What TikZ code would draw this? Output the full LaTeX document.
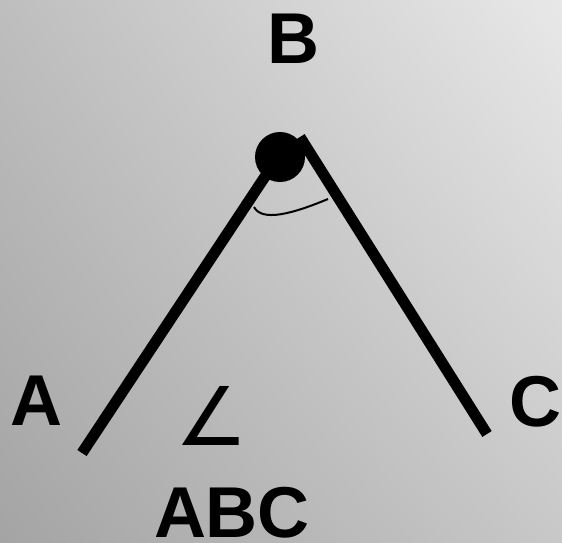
\documentclass[tikz,border=0pt]{standalone}
\usepackage{fontspec}
\usetikzlibrary{shadings}
\setmainfont{Liberation Sans}
\newfontfamily\symfont{DejaVu Sans}
\definecolor{bgul}{RGB}{190,190,190}
\definecolor{bgur}{RGB}{232,232,232}
\definecolor{bgll}{RGB}{164,164,164}
\definecolor{bglr}{RGB}{200,200,200}
\begin{document}
\begin{tikzpicture}[x=1pt,y=-1pt,
		lbl/.style={anchor=base,inner sep=0pt,font=\fontsize{72}{72}\selectfont\bfseries},
		arm/.style={line width=11pt}]
			\shade[upper left=bgul,upper right=bgur,lower left=bgll,lower right=bglr]
				(0,0) rectangle (562,542);
			\useasboundingbox (0,0) rectangle (562,542);
			\coordinate (aend) at (82,453);
			\coordinate (atop) at (272,166);
			\coordinate (ctop) at (300,137);
			\coordinate (cend) at (487,434);
			\coordinate (arcl) at (254,207);
			\coordinate (arcr) at (328,199);
			\draw[arm] (aend) -- (atop);
			\draw[arm] (ctop) -- (cend);
			\node[circle,fill,minimum size=50pt,inner sep=0pt] (b) at (280,157) {};
			\draw[line width=2pt] (arcl) .. controls (262,222) and (292,214) .. (arcr);
			\node[lbl] (A) at (36,425) {A};
			\node[lbl] (B) at (293,63) {B};
			\node[lbl] (C) at (535,426) {C};
			\node[anchor=base,inner sep=0pt,font=\symfont\fontsize{81}{81}\selectfont] (ang) at (212,445) {∠};
			\node[lbl] (abc) at (232,537) {ABC};
		\end{tikzpicture}
\end{document}
